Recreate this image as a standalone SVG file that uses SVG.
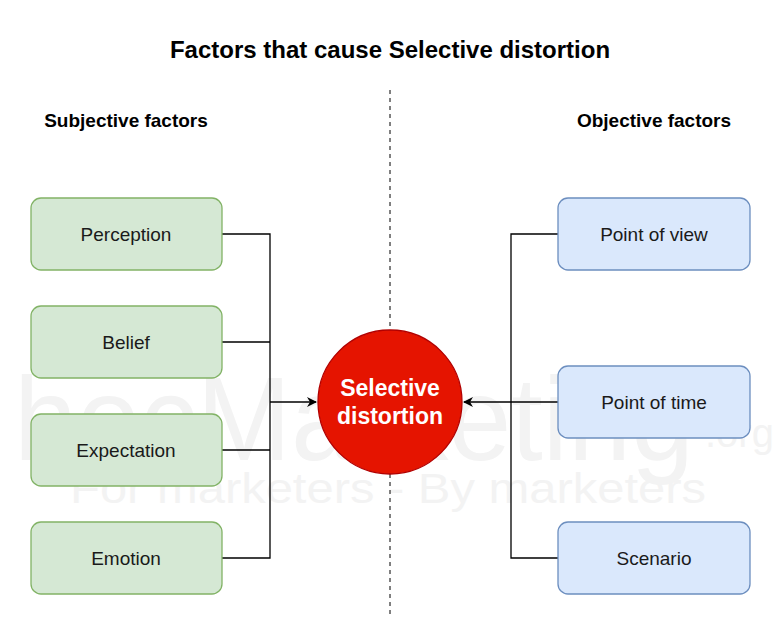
<svg xmlns="http://www.w3.org/2000/svg" width="782" height="634" viewBox="0 0 782 634">
<defs>
<style>
.wm{font-family:"Liberation Sans",Arial,sans-serif;fill:#f3f3f3;}
.title{font-family:"Liberation Sans",Arial,sans-serif;font-weight:bold;font-size:24px;fill:#000;text-anchor:middle;}
.head{font-family:"Liberation Sans",Arial,sans-serif;font-weight:bold;font-size:19px;fill:#000;text-anchor:middle;}
.lbl{font-family:"Liberation Sans",Arial,sans-serif;font-size:19px;fill:#1a1a1a;text-anchor:middle;dominant-baseline:central;}
.green{fill:#d5e8d4;stroke:#82b366;stroke-width:1.3;}
.blue{fill:#dae8fc;stroke:#6c8ebf;stroke-width:1.3;}
.conn{fill:none;stroke:#000;stroke-width:1.3;}
.ctext{font-family:"Liberation Sans",Arial,sans-serif;font-weight:bold;font-size:23px;fill:#fff;text-anchor:middle;}
</style>
<marker id="arr" viewBox="0 0 10 10" refX="9" refY="5" markerWidth="10" markerHeight="10" markerUnits="userSpaceOnUse" orient="auto">
<path d="M0,0 L10,5 L0,10 L3,5 Z" fill="#000"/>
</marker>
</defs>
<rect width="782" height="634" fill="#fff"/>
<g id="watermark">
<text class="wm" x="14" y="460" font-size="118" textLength="680" lengthAdjust="spacingAndGlyphs">hocMarketing</text>
<text class="wm" x="705" y="447" font-size="40">.org</text>
<text class="wm" x="70" y="503" font-size="42" textLength="636" lengthAdjust="spacingAndGlyphs">For marketers - By marketers</text>
</g>
<g id="title"><text class="title" x="390" y="58">Factors that cause Selective distortion</text></g>
<g id="headings">
<text class="head" x="126" y="127">Subjective factors</text>
<text class="head" x="654" y="127">Objective factors</text>
</g>
<line x1="390" y1="90" x2="390" y2="618" stroke="#000" stroke-width="1" stroke-dasharray="4,4"/>
<g id="connectors">
<path class="conn" d="M222,234 H270 V558 H222 M222,342 H270 M222,450 H270"/>
<path class="conn" d="M270,402 H316" marker-end="url(#arr)"/>
<path class="conn" d="M558,234 H511 V558 H558"/>
<path class="conn" d="M558,402 H464" marker-end="url(#arr)"/>
</g>
<g id="perception"><rect class="green" x="31" y="198" width="191" height="72" rx="10"/><text class="lbl" x="126" y="234">Perception</text></g>
<g id="belief"><rect class="green" x="31" y="306" width="191" height="72" rx="10"/><text class="lbl" x="126" y="342">Belief</text></g>
<g id="expectation"><rect class="green" x="31" y="414" width="191" height="72" rx="10"/><text class="lbl" x="126" y="450">Expectation</text></g>
<g id="emotion"><rect class="green" x="31" y="522" width="191" height="72" rx="10"/><text class="lbl" x="126" y="558">Emotion</text></g>
<g id="point-of-view"><rect class="blue" x="558" y="198" width="192" height="72" rx="10"/><text class="lbl" x="654" y="234">Point of view</text></g>
<g id="point-of-time"><rect class="blue" x="558" y="366" width="192" height="72" rx="10"/><text class="lbl" x="654" y="402">Point of time</text></g>
<g id="scenario"><rect class="blue" x="558" y="522" width="192" height="72" rx="10"/><text class="lbl" x="654" y="558">Scenario</text></g>
<g id="selective-distortion">
<circle cx="390" cy="402" r="72" fill="#e51400" stroke="#b20000" stroke-width="1.3"/>
<text class="ctext" x="390" y="396">Selective</text>
<text class="ctext" x="390" y="424">distortion</text>
</g>
</svg>
